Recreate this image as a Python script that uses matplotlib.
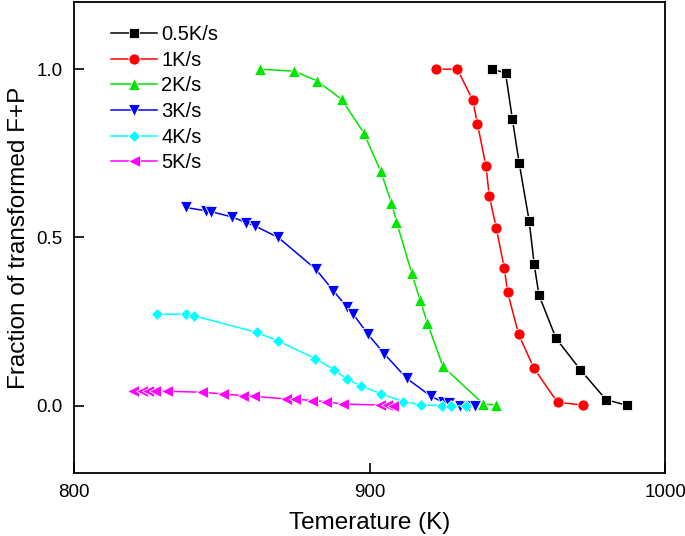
import matplotlib
matplotlib.use("Agg")
import matplotlib.pyplot as plt

plt.rcParams["font.family"] = ["Liberation Sans", "DejaVu Sans"]

# 0.5 K/s
t_05 = [941.3, 946.0, 948.3, 950.6, 954.0, 955.7, 957.3, 963.1, 971.3, 980.0, 987.2]
f_05 = [1.00, 0.989, 0.853, 0.722, 0.549, 0.420, 0.329, 0.200, 0.107, 0.018, 0.001]
# 1 K/s
t_1 = [922.5, 929.7, 934.9, 936.5, 939.4, 940.5, 942.9, 945.6, 946.7, 950.4, 955.6, 963.6, 972.2]
f_1 = [1.00, 1.00, 0.908, 0.838, 0.711, 0.624, 0.527, 0.408, 0.338, 0.213, 0.111, 0.010, 0.002]
# 2 K/s
t_2 = [862.9, 874.6, 882.3, 890.6, 898.0, 903.8, 907.4, 909.1, 914.3, 917.1, 919.6, 924.8,
       938.5, 942.7]
f_2 = [1.00, 0.994, 0.965, 0.910, 0.811, 0.696, 0.603, 0.547, 0.393, 0.313, 0.245, 0.117,
       0.005, 0.002]
# 3 K/s
t_3 = [837.9, 844.7, 846.3, 853.4, 858.3, 861.3, 869.1, 881.9, 887.8, 892.5, 894.3, 899.4,
       904.9, 912.6, 920.8, 925.0, 926.8, 930.6, 933.8, 935.8]
f_3 = [0.589, 0.579, 0.577, 0.561, 0.544, 0.534, 0.500, 0.405, 0.341, 0.292, 0.274, 0.213,
       0.155, 0.081, 0.028, 0.010, 0.007, 0.0, 0.0, 0.0]
# 4 K/s
t_4 = [828.2, 837.9, 840.7, 861.8, 868.9, 881.7, 888.0, 892.3, 897.1, 903.9, 911.4, 917.4,
       924.4, 927.5, 932.6]
f_4 = [0.272, 0.272, 0.267, 0.218, 0.193, 0.140, 0.107, 0.079, 0.059, 0.035, 0.012, 0.003,
       0.0, 0.0, 0.0]
# 5 K/s
t_5 = [820.1, 822.9, 825.1, 827.4, 831.6, 843.2, 850.5, 857.3, 861.0, 871.7, 874.8, 880.6,
       885.3, 890.9, 903.6, 905.8, 908.1]
f_5 = [0.045, 0.045, 0.043, 0.043, 0.043, 0.040, 0.035, 0.030, 0.028, 0.020, 0.020, 0.015,
       0.012, 0.005, 0.002, 0.002, 0.0]

SERIES = [
    (t_05, f_05, "0.5K/s", "black", "s", 6.5),
    (t_1, f_1, "1K/s", "#ff0000", "o", 8),
    (t_2, f_2, "2K/s", "#00e600", "^", 8.5),
    (t_3, f_3, "3K/s", "#0000ff", "v", 8.5),
    (t_4, f_4, "4K/s", "#00ffff", "D", 6.5),
    (t_5, f_5, "5K/s", "#ff00ff", "<", 8.5),
]

fig = plt.figure(figsize=(6.85, 5.36), dpi=100)
ax = fig.add_axes([0.108, 0.1175, 0.863, 0.879])

for t, f, lab, col, mk, ms in SERIES:
    ax.plot(t, f, "-", color=col, linewidth=1.1, marker=mk, markersize=ms,
            markerfacecolor=col, markeredgecolor="white", markeredgewidth=0.6,
            label=lab)

ax.set_xlim(800, 1000)
ax.set_ylim(-0.2, 1.2)
ax.set_xticks([800, 900, 1000])
ax.set_yticks([0.0, 0.5, 1.0])
ax.set_yticklabels(["0.0", "0.5", "1.0"])
ax.tick_params(direction="in", length=7, width=1.2, labelsize=13.5, pad=8)
for s in ax.spines.values():
    s.set_linewidth(1.3)

ax.set_xlabel("Temerature (K)", fontsize=17.5, labelpad=8)
ax.set_ylabel("Fraction of transformed F+P", fontsize=17.5, labelpad=5)

ax.legend(loc="upper left", bbox_to_anchor=(0.035, 0.985), frameon=False,
          fontsize=14.5, handlelength=2.3, handletextpad=0.2, labelspacing=0.33,
          borderpad=0.3)

fig.savefig("out.png", dpi=100)
